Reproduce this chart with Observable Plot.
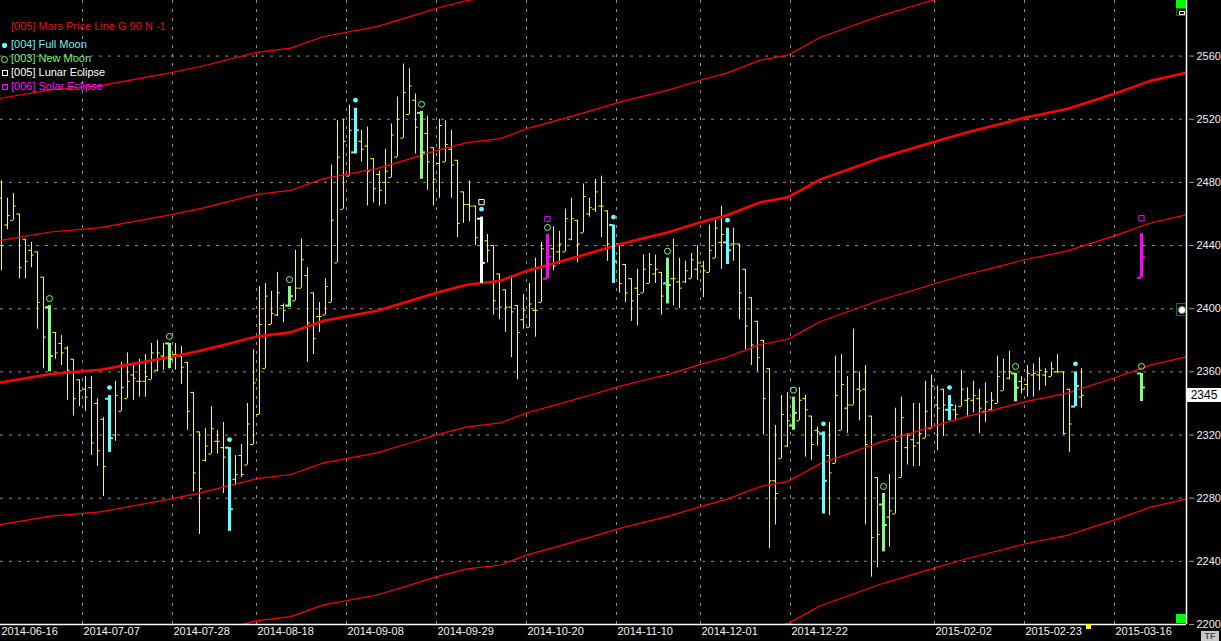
<!DOCTYPE html>
<html><head><meta charset="utf-8">
<script src="https://cdn.jsdelivr.net/npm/d3@7"></script>
<script src="https://cdn.jsdelivr.net/npm/@observablehq/plot@0.6"></script>
<style>
html,body{margin:0;padding:0;background:#000;}
#wrap{position:relative;width:1221px;height:641px;overflow:hidden;background:#000;font-family:"Liberation Sans",Arial,sans-serif;}
#wrap svg{display:block;}
.lg{position:absolute;font-size:11px;line-height:13px;white-space:nowrap;}
.mk{position:absolute;box-sizing:border-box;}
</style></head><body><div id="wrap"></div>
<script>
// ---- data ----
const openP = [2470,2453,2456,2460,2444,2437,2436,2420,2401,2385,
2378,2375,2368,2355,2349,2350,2340,2330,2343,2320,
2335,2343,2358,2354,2354,2355,2361,2370,2378,2371,
2370,2366,2347,2322,2304,2308,2316,2312,2312,2292,
2307,2301,2314,2333,2362,2390,2396,2402,2402,2405,
2413,2421,2410,2395,2396,2404,2429,2463,2484,2499,
2506,2503,2495,2485,2480,2483,2496,2508,2523,2532,
2524,2511,2502,2492,2493,2501,2494,2474,2466,2465,
2457,2443,2440,2422,2412,2401,2402,2393,2388,2399,
2404,2419,2438,2436,2436,2444,2456,2448,2460,2463,
2465,2462,2453,2441,2428,2419,2413,2410,2416,2422,
2423,2416,2419,2417,2417,2419,2425,2427,2423,2432,
2442,2442,2441,2441,2425,2407,2392,2380,2362,2291,
2305,2313,2326,2329,2343,2332,2323,2321,2307,2302,
2323,2337,2339,2349,2349,2332,2293,2276,2268,2270,
2293,2312,2317,2315,2318,2324,2339,2349,2336,2336,
2338,2342,2342,2343,2335,2336,2340,2348,2356,2359,
2354,2352,2358,2358,2358,2357,2360,2360,2349,2338,2344];
const highP = [2481,2470,2473,2460,2444,2442,2436,2420,2402,2385,
2383,2376,2368,2355,2357,2357,2343,2331,2345,2354,
2366,2372,2365,2368,2371,2378,2380,2378,2378,2378,
2376,2366,2347,2322,2324,2338,2323,2328,2312,2307,
2314,2340,2374,2414,2416,2411,2423,2403,2414,2437,
2444,2426,2410,2404,2419,2491,2519,2520,2529,2527,
2513,2515,2495,2487,2501,2517,2534,2555,2552,2536,
2525,2522,2502,2520,2519,2513,2494,2474,2481,2465,
2458,2447,2440,2422,2412,2421,2402,2409,2416,2432,
2442,2447,2452,2449,2463,2470,2456,2479,2470,2482,
2484,2462,2453,2441,2428,2419,2425,2434,2435,2434,
2423,2432,2444,2432,2430,2435,2440,2430,2453,2456,
2465,2451,2451,2441,2425,2407,2392,2380,2362,2326,
2345,2347,2344,2350,2345,2332,2325,2322,2328,2370,
2371,2357,2387,2360,2364,2332,2293,2283,2295,2337,
2344,2321,2340,2340,2354,2358,2351,2349,2345,2339,
2361,2350,2354,2349,2353,2347,2370,2368,2373,2359,
2357,2364,2365,2369,2362,2366,2371,2360,2349,2360,2362];
const lowP = [2424,2450,2456,2419,2419,2426,2387,2362,2360,2368,
2364,2342,2332,2338,2335,2307,2300,2281,2309,2316,
2335,2343,2342,2344,2344,2355,2360,2361,2362,2361,
2352,2323,2284,2257,2303,2308,2308,2283,2259,2288,
2293,2301,2314,2333,2362,2390,2395,2391,2401,2405,
2413,2366,2371,2385,2396,2404,2429,2463,2484,2498,
2493,2465,2467,2465,2466,2483,2496,2508,2523,2498,
2482,2475,2465,2470,2493,2470,2445,2454,2455,2440,
2416,2429,2396,2393,2385,2369,2355,2387,2388,2382,
2404,2419,2424,2428,2436,2443,2429,2448,2458,2461,
2445,2430,2416,2410,2404,2392,2389,2410,2416,2416,
2396,2403,2402,2400,2416,2419,2418,2407,2423,2432,
2425,2428,2430,2393,2374,2364,2360,2320,2248,2263,
2305,2312,2323,2329,2306,2304,2313,2270,2269,2302,
2323,2321,2339,2329,2263,2230,2236,2246,2249,2270,
2293,2301,2300,2300,2318,2324,2310,2319,2329,2329,
2338,2332,2334,2321,2328,2335,2340,2348,2355,2341,
2346,2344,2344,2348,2351,2357,2359,2320,2309,2338,2337];
const closeP = [2440,2459,2465,2426,2430,2434,2404,2382,2370,2372,
2372,2361,2343,2348,2344,2315,2310,2300,2318,2345,
2350,2354,2356,2354,2357,2372,2372,2369,2368,2371,
2363,2335,2296,2286,2313,2324,2316,2306,2273,2295,
2295,2327,2353,2390,2408,2397,2410,2399,2408,2413,
2431,2391,2381,2395,2414,2456,2496,2506,2513,2513,
2501,2487,2476,2475,2487,2510,2520,2537,2541,2515,
2499,2493,2482,2516,2504,2491,2454,2466,2465,2445,
2429,2437,2405,2401,2401,2398,2385,2399,2403,2399,
2438,2433,2427,2441,2457,2457,2441,2471,2464,2474,
2465,2441,2430,2416,2410,2405,2409,2425,2428,2425,
2408,2415,2419,2413,2424,2431,2429,2424,2437,2451,
2447,2437,2441,2410,2389,2377,2369,2343,2291,2283,
2333,2329,2334,2342,2336,2314,2322,2291,2296,2345,
2352,2339,2360,2348,2314,2255,2257,2263,2272,2316,
2331,2320,2313,2321,2335,2351,2337,2339,2339,2333,
2349,2343,2345,2337,2341,2342,2357,2360,2360,2350,
2349,2359,2359,2361,2360,2362,2360,2321,2327,2351,2345];

// event bars (trading-day index)
const fullMoonIdx = [18, 38, 59, 80, 102, 121, 137, 158, 179];
const newMoonIdx = [8, 28, 48, 70, 91, 111, 132, 147, 169];
const lunarEclipseIdx = [80];
const solarEclipseIdx = [91];

// projected event bars
const projIdx = [190, 190];
const projKind = ["solar", "nu"];
const projOpen = [2419.6, 2359];
const projHigh = [2447.5, 2359];
const projLow = [2419.6, 2341.2];
const projClose = [2432.9, 2350.1];

// Mars price line (base line, trading-day index -> price); others are +/- 90
const lineIdx = [-0.17, 8.2, 16.5, 27.7, 33.2, 42.6, 48.2, 53.7, 62.6, 68.2, 72.6, 77.6, 83.2, 87.6, 92.6, 97.6, 103.2, 106.5, 111, 116.5, 121, 126.5, 131, 133.2, 136.5, 141.5, 146.5, 151, 156.5, 161, 166.5, 170.5, 177.6, 185.6, 191.5, 197.5];
const lineVal = [2353.3, 2358.6, 2361.3, 2369.1, 2373.4, 2382.4, 2385, 2392.4, 2398.7, 2405.1, 2410.3, 2415.2, 2417.7, 2424.1, 2429.3, 2434.7, 2441, 2444.2, 2448.3, 2454.7, 2459.4, 2467.4, 2470.5, 2475, 2481.9, 2488.7, 2495.5, 2500.6, 2506.9, 2511.8, 2517, 2521, 2526.5, 2536.3, 2544.3, 2549.5];
const lineOffsets = [-3, -2, -1, 1, 2];
const lineStep = 90;

// axes
const tickIdx = [0, 14, 29, 43, 58, 73, 88, 103, 117, 132, 156, 171, 186];
const tickLabels = ["2014-06-16","2014-07-07","2014-07-28","2014-08-18","2014-09-08","2014-09-29","2014-10-20","2014-11-10","2014-12-01","2014-12-22","2015-02-02","2015-02-23","2015-03-16"];
const yTicks = [2200, 2240, 2280, 2320, 2360, 2400, 2440, 2480, 2520, 2560];
const xDomain = [-1/6, 197.5];
const yDomain = [2200, 2595.2];
const lastPrice = 2345;

// ---- build ----
const kindColor = {normal: "#ffff00", full: "#66ffff", nu: "#80ff80", lunar: "#f2ffff", solar: "#ff00ff"};
const bars = openP.map((o, i) => {
  const full = fullMoonIdx.includes(i), nu = newMoonIdx.includes(i),
        lunar = lunarEclipseIdx.includes(i), solar = solarEclipseIdx.includes(i);
  const kind = solar ? "solar" : lunar ? "lunar" : nu ? "nu" : full ? "full" : "normal";
  return {i, o, h: highP[i], l: lowP[i], c: closeP[i], full, nu, lunar, solar, kind, color: kindColor[kind]};
});
projIdx.forEach((i, j) => {
  const k = projKind[j];
  bars.push({i, o: projOpen[j], h: projHigh[j], l: projLow[j], c: projClose[j],
    full: k === "full", nu: k === "nu", lunar: k === "lunar", solar: k === "solar", kind: k, color: kindColor[k]});
});
const plain = bars.filter(d => d.kind === "normal");
const events = bars.filter(d => d.kind !== "normal");

const baseLine = lineIdx.map((i, j) => ({i, v: lineVal[j]}));
const thinLines = lineOffsets.flatMap(k => baseLine.map(d => ({i: d.i, v: d.v + k * lineStep, k})));

const gridStyle = {stroke: "#8c8c8c", strokeDasharray: "3,6", strokeWidth: 1};

const plot = Plot.plot({
  width: 1221, height: 641,
  marginLeft: 0, marginRight: 35, marginTop: 0, marginBottom: 17,
  style: {background: "#000", color: "#fff", fontFamily: "'Liberation Sans', Arial, sans-serif", fontSize: "11px", overflow: "visible"},
  x: {domain: xDomain, axis: null},
  y: {domain: yDomain, axis: null},
  marks: [
    Plot.ruleY(yTicks.slice(1), {y: d => d, ...gridStyle}),
    Plot.ruleX(tickIdx.slice(1), {x: d => d - 0.5, ...gridStyle}),
    // plain OHLC bars
    Plot.ruleX(plain, {x: "i", y1: "l", y2: "h", stroke: "#ffff00", strokeWidth: 1}),
    Plot.ruleY(plain, {y: "o", x1: d => d.i - 0.45, x2: "i", stroke: "#ffff00", strokeWidth: 1}),
    Plot.ruleY(plain, {y: "c", x1: "i", x2: d => d.i + 0.45, stroke: "#ffff00", strokeWidth: 1}),
    // Mars price lines
    Plot.line(thinLines, {x: "i", y: "v", z: "k", stroke: "#ff0000", strokeWidth: 1.2, clip: true}),
    Plot.line(baseLine, {x: "i", y: "v", stroke: "#ff0000", strokeWidth: 2.6, clip: true}),
    // event bars
    Plot.ruleX(events, {x: "i", y1: "l", y2: "h", stroke: "color", strokeWidth: 3}),
    Plot.ruleY(events, {y: "o", x1: d => d.i - 0.65, x2: "i", stroke: "color", strokeWidth: 2}),
    Plot.ruleY(events, {y: "c", x1: "i", x2: d => d.i + 0.65, stroke: "color", strokeWidth: 2}),
    // event markers
    Plot.dot(bars.filter(d => d.full), {x: "i", y: "h", dy: -8, r: 2.4, fill: "#66ffff", stroke: "none"}),
    Plot.dot(bars.filter(d => d.nu), {x: "i", y: "h", dy: -7, r: 3, fill: "none", stroke: "#80ff80", strokeWidth: 1}),
    Plot.dot(bars.filter(d => d.lunar), {x: "i", y: "h", dy: -15, r: 3, symbol: "square", fill: "none", stroke: "#ffffff", strokeWidth: 1}),
    Plot.dot(bars.filter(d => d.solar), {x: "i", y: "h", dy: -15.5, r: 3, symbol: "square", fill: "none", stroke: "#ff00ff", strokeWidth: 1}),
    // frame
    Plot.ruleY([yDomain[0]], {y: d => d, stroke: "#ffffff", strokeWidth: 1.5}),
    Plot.ruleX([xDomain[1]], {x: d => d, stroke: "#ffffff", strokeWidth: 1.5}),
    // right axis
    Plot.ruleY(yTicks, {y: d => d, x1: xDomain[1] + 0.5, x2: xDomain[1] + 1.35, stroke: "#9a9a9a", strokeWidth: 1}),
    Plot.text(yTicks, {y: d => d, text: d => String(d), frameAnchor: "right", dx: 10, textAnchor: "start", fill: "#eef2ff", fontSize: 11}),
    // bottom axis labels
    Plot.text(tickIdx.map((t, j) => ({t, label: tickLabels[j]})), {x: d => Math.max(d.t - 0.5, xDomain[0]), text: "label", frameAnchor: "bottom", dy: 10, dx: 1, textAnchor: "start", fill: "#f4f4f4", fontSize: 11})
  ]
});

const wrap = document.getElementById("wrap");
wrap.appendChild(plot);

// legend overlay
const legend = [
  {t: "[005] Mars Price Line G 90 N -1", c: "#e81010", y: 27, m: null},
  {t: "[004] Full Moon", c: "#6feef6", y: 45, m: "full"},
  {t: "[003] New Moon", c: "#7cf07c", y: 59, m: "nu"},
  {t: "[005] Lunar Eclipse", c: "#ffffff", y: 73, m: "lunar"},
  {t: "[006] Solar Eclipse", c: "#ff10ff", y: 87, m: "solar"}
];
for (const L of legend) {
  const d = document.createElement("div");
  d.className = "lg"; d.textContent = L.t; d.style.color = L.c;
  d.style.left = "11px"; d.style.top = (L.y - 7) + "px";
  wrap.appendChild(d);
  if (L.m) {
    const m = document.createElement("div"); m.className = "mk";
    if (L.m === "full") { Object.assign(m.style, {left: "2px", top: (L.y - 2) + "px", width: "5px", height: "5px", background: "#66ffff", borderRadius: "2px"}); }
    if (L.m === "nu") { Object.assign(m.style, {left: "1px", top: (L.y - 3) + "px", width: "7px", height: "7px", border: "1px solid #80ff80", borderRadius: "50%"}); }
    if (L.m === "lunar") { Object.assign(m.style, {left: "2px", top: (L.y - 3) + "px", width: "6px", height: "6px", border: "1px solid #fff"}); }
    if (L.m === "solar") { Object.assign(m.style, {left: "2px", top: (L.y - 3) + "px", width: "6px", height: "6px", border: "1px solid #ff00ff"}); }
    wrap.appendChild(m);
  }
}

// last price box
const yPix = plot.scale("y").apply(lastPrice);
const pb = document.createElement("div");
Object.assign(pb.style, {position: "absolute", left: "1187px", top: (yPix - 7) + "px", width: "34px", height: "14px", background: "#fff", color: "#000", fontSize: "12px", lineHeight: "14px", textAlign: "center"});
pb.textContent = String(lastPrice);
wrap.appendChild(pb);

// chart widgets
function box(st, html) { const e = document.createElement("div"); e.className = "mk"; Object.assign(e.style, st); if (html) e.innerHTML = html; wrap.appendChild(e); return e; }
box({left: "1176px", top: "0px", width: "10px", height: "8px", background: "#00ff00"});
box({left: "1176px", top: "8px", width: "10px", height: "8px", border: "1px solid #0a7a0a", background: "#000"}, '<div style="position:absolute;left:2px;top:2px;width:4px;height:2px;border:1px solid #fff"></div>');
box({left: "1176px", top: "303px", width: "10px", height: "13px", border: "1px solid #0a7a0a", background: "#000"}, '<div style="position:absolute;left:1px;top:2px;width:6px;height:6px;border-radius:50%;background:#fff;border:1px solid #888"></div>');
box({left: "1176px", top: "614px", width: "10px", height: "9px", background: "#00ff00"});
box({left: "1086px", top: "624px", width: "5px", height: "5px", background: "#ffff00"});
box({left: "1201px", top: "631px", width: "18px", height: "10px", background: "#c8c8c8", color: "#505050", fontSize: "9px", lineHeight: "10px", textAlign: "center", fontWeight: "bold"}, "TF");
</script>
</body></html>
